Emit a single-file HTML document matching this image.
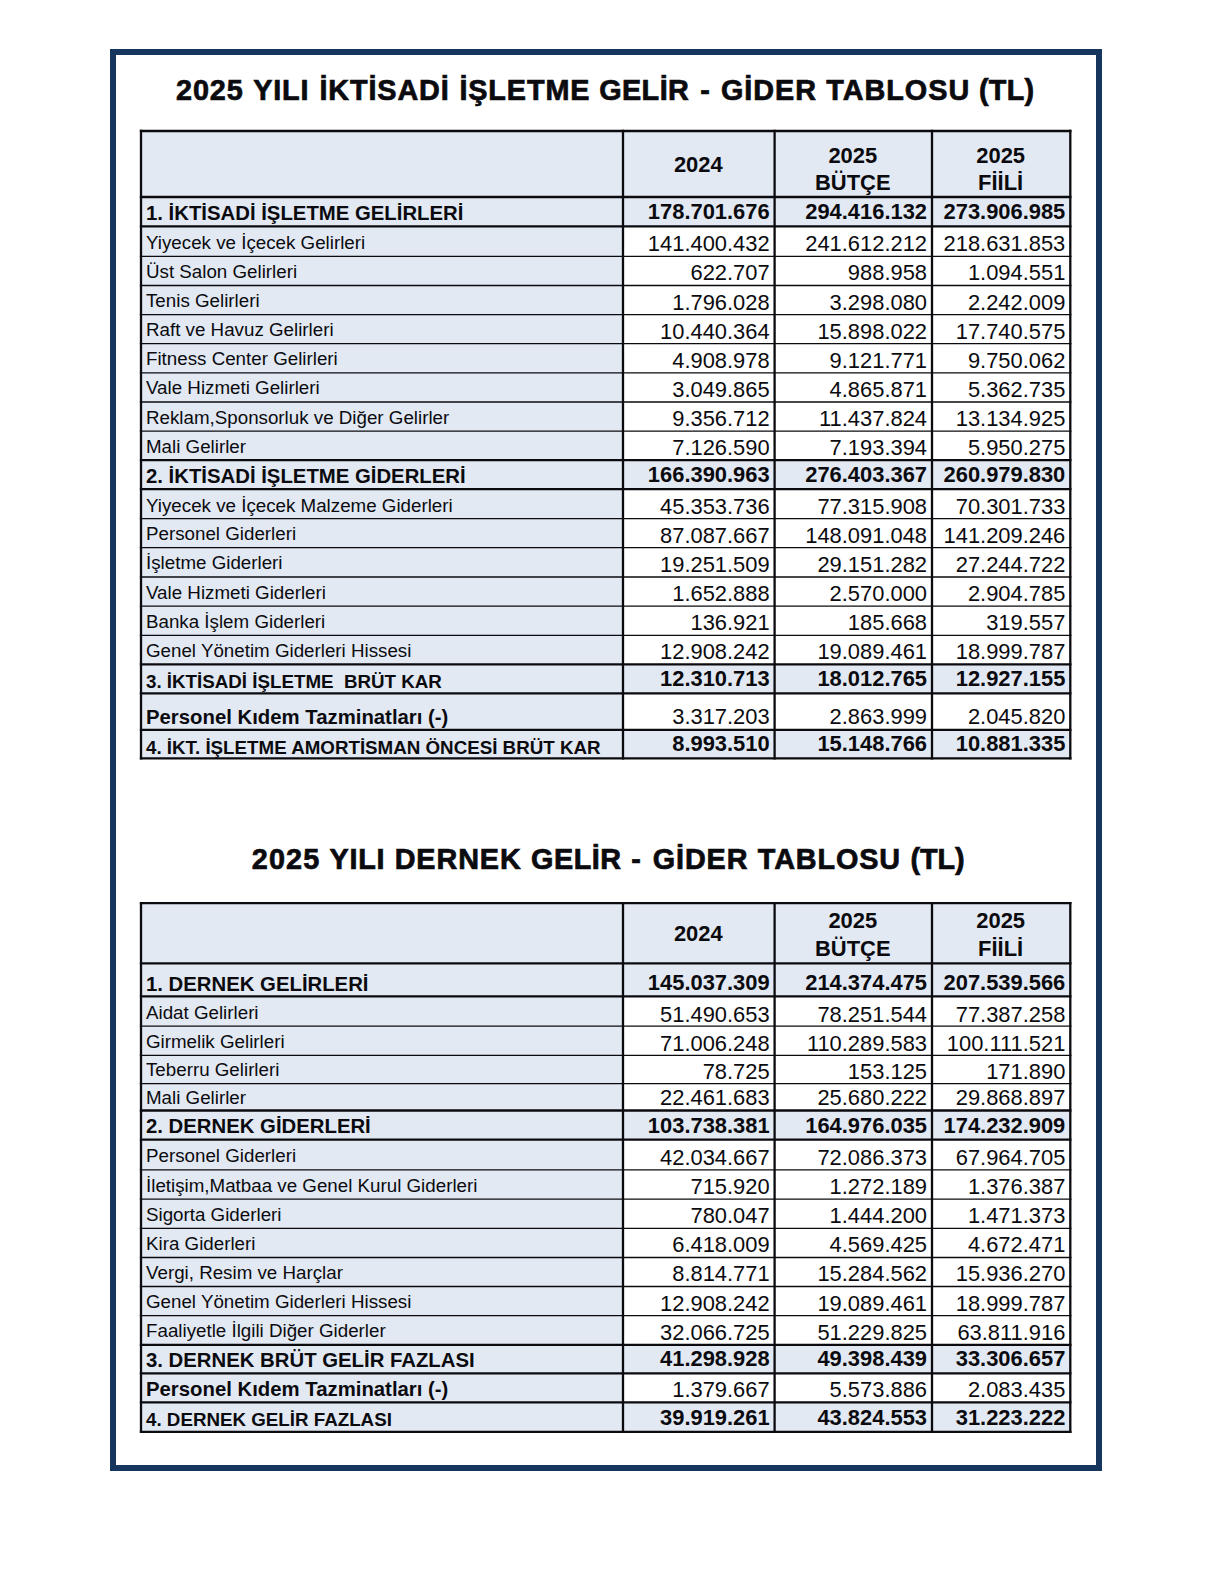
<!DOCTYPE html>
<html lang="tr"><head><meta charset="utf-8"><title>2025 Yılı Gelir - Gider Tabloları</title>
<style>
html,body{margin:0;padding:0;background:#fff;overflow:hidden;}
#page{position:relative;width:1217px;height:1571px;overflow:hidden;background:#fff;font-family:"Liberation Sans",Arial,Helvetica,sans-serif;color:#0b0b0f;}
#page svg{position:absolute;left:0;top:0;}
.t{position:absolute;white-space:pre;margin:0;font-weight:400;}
.ttl{-webkit-text-stroke:0.7px #0b0b0f;position:absolute;left:0;width:1217px;margin:0;font-weight:700;white-space:pre;}
.ttl span{position:absolute;top:0;display:block;transform-origin:0 0;}
</style></head><body>
<div id="page">
<svg width="1217" height="1571" viewBox="0 0 1217 1571">
<rect x="113" y="52" width="986" height="1416" fill="none" stroke="#17365f" stroke-width="6"/>
<rect x="141" y="131" width="482" height="627.4" fill="#e2e9f3"/>
<rect x="623" y="131" width="447.3" height="66" fill="#e2e9f3"/>
<rect x="623" y="197" width="447.3" height="29.4" fill="#e2e9f3"/>
<rect x="623" y="460.2" width="447.3" height="29" fill="#e2e9f3"/>
<rect x="623" y="664.3" width="447.3" height="29.1" fill="#e2e9f3"/>
<rect x="623" y="729.8" width="447.3" height="28.6" fill="#e2e9f3"/>
<line x1="139.85" x2="1071.45" y1="131" y2="131" stroke="#0b0b0f" stroke-width="2.3"/>
<line x1="139.85" x2="1071.45" y1="197" y2="197" stroke="#0b0b0f" stroke-width="2.3"/>
<line x1="139.85" x2="1071.45" y1="226.4" y2="226.4" stroke="#0b0b0f" stroke-width="2.3"/>
<line x1="139.85" x2="1071.45" y1="256.4" y2="256.4" stroke="#0b0b0f" stroke-width="1.3"/>
<line x1="139.85" x2="1071.45" y1="285.5" y2="285.5" stroke="#0b0b0f" stroke-width="1.3"/>
<line x1="139.85" x2="1071.45" y1="314.6" y2="314.6" stroke="#0b0b0f" stroke-width="1.3"/>
<line x1="139.85" x2="1071.45" y1="343.7" y2="343.7" stroke="#0b0b0f" stroke-width="1.3"/>
<line x1="139.85" x2="1071.45" y1="372.9" y2="372.9" stroke="#0b0b0f" stroke-width="1.3"/>
<line x1="139.85" x2="1071.45" y1="402" y2="402" stroke="#0b0b0f" stroke-width="1.3"/>
<line x1="139.85" x2="1071.45" y1="431.1" y2="431.1" stroke="#0b0b0f" stroke-width="1.3"/>
<line x1="139.85" x2="1071.45" y1="460.2" y2="460.2" stroke="#0b0b0f" stroke-width="2.3"/>
<line x1="139.85" x2="1071.45" y1="489.2" y2="489.2" stroke="#0b0b0f" stroke-width="2.3"/>
<line x1="139.85" x2="1071.45" y1="518.6" y2="518.6" stroke="#0b0b0f" stroke-width="1.3"/>
<line x1="139.85" x2="1071.45" y1="547.7" y2="547.7" stroke="#0b0b0f" stroke-width="1.3"/>
<line x1="139.85" x2="1071.45" y1="577" y2="577" stroke="#0b0b0f" stroke-width="1.3"/>
<line x1="139.85" x2="1071.45" y1="606.2" y2="606.2" stroke="#0b0b0f" stroke-width="1.3"/>
<line x1="139.85" x2="1071.45" y1="635.3" y2="635.3" stroke="#0b0b0f" stroke-width="1.3"/>
<line x1="139.85" x2="1071.45" y1="664.3" y2="664.3" stroke="#0b0b0f" stroke-width="2.3"/>
<line x1="139.85" x2="1071.45" y1="693.4" y2="693.4" stroke="#0b0b0f" stroke-width="2.3"/>
<line x1="139.85" x2="1071.45" y1="729.8" y2="729.8" stroke="#0b0b0f" stroke-width="2.3"/>
<line x1="139.85" x2="1071.45" y1="758.4" y2="758.4" stroke="#0b0b0f" stroke-width="2.3"/>
<line x1="141" x2="141" y1="129.85" y2="759.55" stroke="#0b0b0f" stroke-width="2.3"/>
<line x1="623" x2="623" y1="129.85" y2="759.55" stroke="#0b0b0f" stroke-width="2.3"/>
<line x1="774.6" x2="774.6" y1="129.85" y2="759.55" stroke="#0b0b0f" stroke-width="2.3"/>
<line x1="932" x2="932" y1="129.85" y2="759.55" stroke="#0b0b0f" stroke-width="2.3"/>
<line x1="1070.3" x2="1070.3" y1="129.85" y2="759.55" stroke="#0b0b0f" stroke-width="2.3"/>
<rect x="141" y="903.2" width="482" height="528.6" fill="#e2e9f3"/>
<rect x="623" y="903.2" width="447.3" height="60.1" fill="#e2e9f3"/>
<rect x="623" y="963.3" width="447.3" height="33.1" fill="#e2e9f3"/>
<rect x="623" y="1110.5" width="447.3" height="29.1" fill="#e2e9f3"/>
<rect x="623" y="1344.8" width="447.3" height="28.6" fill="#e2e9f3"/>
<rect x="623" y="1402.4" width="447.3" height="29.4" fill="#e2e9f3"/>
<line x1="139.85" x2="1071.45" y1="903.2" y2="903.2" stroke="#0b0b0f" stroke-width="2.3"/>
<line x1="139.85" x2="1071.45" y1="963.3" y2="963.3" stroke="#0b0b0f" stroke-width="2.3"/>
<line x1="139.85" x2="1071.45" y1="996.4" y2="996.4" stroke="#0b0b0f" stroke-width="2.3"/>
<line x1="139.85" x2="1071.45" y1="1026.1" y2="1026.1" stroke="#0b0b0f" stroke-width="1.3"/>
<line x1="139.85" x2="1071.45" y1="1055.4" y2="1055.4" stroke="#0b0b0f" stroke-width="1.3"/>
<line x1="139.85" x2="1071.45" y1="1083.6" y2="1083.6" stroke="#0b0b0f" stroke-width="1.3"/>
<line x1="139.85" x2="1071.45" y1="1110.5" y2="1110.5" stroke="#0b0b0f" stroke-width="2.3"/>
<line x1="139.85" x2="1071.45" y1="1139.6" y2="1139.6" stroke="#0b0b0f" stroke-width="2.3"/>
<line x1="139.85" x2="1071.45" y1="1169.9" y2="1169.9" stroke="#0b0b0f" stroke-width="1.3"/>
<line x1="139.85" x2="1071.45" y1="1199.1" y2="1199.1" stroke="#0b0b0f" stroke-width="1.3"/>
<line x1="139.85" x2="1071.45" y1="1228.3" y2="1228.3" stroke="#0b0b0f" stroke-width="1.3"/>
<line x1="139.85" x2="1071.45" y1="1257.5" y2="1257.5" stroke="#0b0b0f" stroke-width="1.3"/>
<line x1="139.85" x2="1071.45" y1="1286.5" y2="1286.5" stroke="#0b0b0f" stroke-width="1.3"/>
<line x1="139.85" x2="1071.45" y1="1315.6" y2="1315.6" stroke="#0b0b0f" stroke-width="1.3"/>
<line x1="139.85" x2="1071.45" y1="1344.8" y2="1344.8" stroke="#0b0b0f" stroke-width="2.3"/>
<line x1="139.85" x2="1071.45" y1="1373.4" y2="1373.4" stroke="#0b0b0f" stroke-width="2.3"/>
<line x1="139.85" x2="1071.45" y1="1402.4" y2="1402.4" stroke="#0b0b0f" stroke-width="2.3"/>
<line x1="139.85" x2="1071.45" y1="1431.8" y2="1431.8" stroke="#0b0b0f" stroke-width="2.3"/>
<line x1="141" x2="141" y1="902.05" y2="1432.95" stroke="#0b0b0f" stroke-width="2.3"/>
<line x1="623" x2="623" y1="902.05" y2="1432.95" stroke="#0b0b0f" stroke-width="2.3"/>
<line x1="774.6" x2="774.6" y1="902.05" y2="1432.95" stroke="#0b0b0f" stroke-width="2.3"/>
<line x1="932" x2="932" y1="902.05" y2="1432.95" stroke="#0b0b0f" stroke-width="2.3"/>
<line x1="1070.3" x2="1070.3" y1="902.05" y2="1432.95" stroke="#0b0b0f" stroke-width="2.3"/>
</svg>
<section>
<h1 class="ttl" style="top:72.12px;font-size:28.8px;line-height:37px;"><span style="left:176.05px;letter-spacing:0.85px">2025</span> <span style="left:253.2px;letter-spacing:0.82px">YILI</span> <span style="left:319.4px;letter-spacing:0.89px">İKTİSADİ</span> <span style="left:459.4px;letter-spacing:0.88px">İŞLETME</span> <span style="left:599.15px;letter-spacing:0.43px">GELİR</span> <span style="left:700.25px;letter-spacing:0px">-</span> <span style="left:720.95px;letter-spacing:0.96px">GİDER</span> <span style="left:826.2px;letter-spacing:1.01px">TABLOSU</span> <span style="left:979.1px;letter-spacing:0.18px">(TL)</span></h1>
<div class="t" style="top:152.09px;font-size:21.95px;line-height:26px;left:98.3px;width:1200px;text-align:center;font-weight:700;">2024</div>
<div class="t" style="top:143.39px;font-size:21.95px;line-height:26px;left:252.8px;width:1200px;text-align:center;font-weight:700;">2025</div>
<div class="t" style="top:170.39px;font-size:21.95px;line-height:26px;left:252.8px;width:1200px;text-align:center;font-weight:700;">BÜTÇE</div>
<div class="t" style="top:143.39px;font-size:21.95px;line-height:26px;left:400.65px;width:1200px;text-align:center;font-weight:700;">2025</div>
<div class="t" style="top:170.39px;font-size:21.95px;line-height:26px;left:400.65px;width:1200px;text-align:center;font-weight:700;">FİİLİ</div>
<div class="row"><div class="t" style="top:200.75px;font-size:20.34px;line-height:24px;left:146px;font-weight:700;">1. İKTİSADİ İŞLETME GELİRLERİ</div><div class="t" style="top:199.41px;font-size:21.9px;line-height:26px;right:447.4px;font-weight:700;">178.701.676</div><div class="t" style="top:199.41px;font-size:21.9px;line-height:26px;right:290px;font-weight:700;">294.416.132</div><div class="t" style="top:199.41px;font-size:21.9px;line-height:26px;right:151.7px;font-weight:700;">273.906.985</div></div>
<div class="row"><div class="t" style="top:230.8px;font-size:18.76px;line-height:23px;left:146px;">Yiyecek ve İçecek Gelirleri</div><div class="t" style="top:231.31px;font-size:21.9px;line-height:26px;right:447.4px;">141.400.432</div><div class="t" style="top:231.31px;font-size:21.9px;line-height:26px;right:290px;">241.612.212</div><div class="t" style="top:231.31px;font-size:21.9px;line-height:26px;right:151.7px;">218.631.853</div></div>
<div class="row"><div class="t" style="top:259.9px;font-size:18.76px;line-height:23px;left:146px;">Üst Salon Gelirleri</div><div class="t" style="top:260.41px;font-size:21.9px;line-height:26px;right:447.4px;">622.707</div><div class="t" style="top:260.41px;font-size:21.9px;line-height:26px;right:290px;">988.958</div><div class="t" style="top:260.41px;font-size:21.9px;line-height:26px;right:151.7px;">1.094.551</div></div>
<div class="row"><div class="t" style="top:289px;font-size:18.76px;line-height:23px;left:146px;">Tenis Gelirleri</div><div class="t" style="top:289.51px;font-size:21.9px;line-height:26px;right:447.4px;">1.796.028</div><div class="t" style="top:289.51px;font-size:21.9px;line-height:26px;right:290px;">3.298.080</div><div class="t" style="top:289.51px;font-size:21.9px;line-height:26px;right:151.7px;">2.242.009</div></div>
<div class="row"><div class="t" style="top:318.1px;font-size:18.76px;line-height:23px;left:146px;">Raft ve Havuz Gelirleri</div><div class="t" style="top:318.61px;font-size:21.9px;line-height:26px;right:447.4px;">10.440.364</div><div class="t" style="top:318.61px;font-size:21.9px;line-height:26px;right:290px;">15.898.022</div><div class="t" style="top:318.61px;font-size:21.9px;line-height:26px;right:151.7px;">17.740.575</div></div>
<div class="row"><div class="t" style="top:347.3px;font-size:18.76px;line-height:23px;left:146px;">Fitness Center Gelirleri</div><div class="t" style="top:347.81px;font-size:21.9px;line-height:26px;right:447.4px;">4.908.978</div><div class="t" style="top:347.81px;font-size:21.9px;line-height:26px;right:290px;">9.121.771</div><div class="t" style="top:347.81px;font-size:21.9px;line-height:26px;right:151.7px;">9.750.062</div></div>
<div class="row"><div class="t" style="top:376.4px;font-size:18.76px;line-height:23px;left:146px;">Vale Hizmeti Gelirleri</div><div class="t" style="top:376.91px;font-size:21.9px;line-height:26px;right:447.4px;">3.049.865</div><div class="t" style="top:376.91px;font-size:21.9px;line-height:26px;right:290px;">4.865.871</div><div class="t" style="top:376.91px;font-size:21.9px;line-height:26px;right:151.7px;">5.362.735</div></div>
<div class="row"><div class="t" style="top:405.5px;font-size:18.76px;line-height:23px;left:146px;">Reklam,Sponsorluk ve Diğer Gelirler</div><div class="t" style="top:406.01px;font-size:21.9px;line-height:26px;right:447.4px;">9.356.712</div><div class="t" style="top:406.01px;font-size:21.9px;line-height:26px;right:290px;">11.437.824</div><div class="t" style="top:406.01px;font-size:21.9px;line-height:26px;right:151.7px;">13.134.925</div></div>
<div class="row"><div class="t" style="top:434.6px;font-size:18.76px;line-height:23px;left:146px;">Mali Gelirler</div><div class="t" style="top:435.11px;font-size:21.9px;line-height:26px;right:447.4px;">7.126.590</div><div class="t" style="top:435.11px;font-size:21.9px;line-height:26px;right:290px;">7.193.394</div><div class="t" style="top:435.11px;font-size:21.9px;line-height:26px;right:151.7px;">5.950.275</div></div>
<div class="row"><div class="t" style="top:463.55px;font-size:20.34px;line-height:24px;left:146px;font-weight:700;">2. İKTİSADİ İŞLETME GİDERLERİ</div><div class="t" style="top:462.21px;font-size:21.9px;line-height:26px;right:447.4px;font-weight:700;">166.390.963</div><div class="t" style="top:462.21px;font-size:21.9px;line-height:26px;right:290px;font-weight:700;">276.403.367</div><div class="t" style="top:462.21px;font-size:21.9px;line-height:26px;right:151.7px;font-weight:700;">260.979.830</div></div>
<div class="row"><div class="t" style="top:493.8px;font-size:18.76px;line-height:23px;left:146px;">Yiyecek ve İçecek Malzeme Giderleri</div><div class="t" style="top:493.51px;font-size:21.9px;line-height:26px;right:447.4px;">45.353.736</div><div class="t" style="top:493.51px;font-size:21.9px;line-height:26px;right:290px;">77.315.908</div><div class="t" style="top:493.51px;font-size:21.9px;line-height:26px;right:151.7px;">70.301.733</div></div>
<div class="row"><div class="t" style="top:522.1px;font-size:18.76px;line-height:23px;left:146px;">Personel Giderleri</div><div class="t" style="top:522.61px;font-size:21.9px;line-height:26px;right:447.4px;">87.087.667</div><div class="t" style="top:522.61px;font-size:21.9px;line-height:26px;right:290px;">148.091.048</div><div class="t" style="top:522.61px;font-size:21.9px;line-height:26px;right:151.7px;">141.209.246</div></div>
<div class="row"><div class="t" style="top:551.4px;font-size:18.76px;line-height:23px;left:146px;">İşletme Giderleri</div><div class="t" style="top:551.91px;font-size:21.9px;line-height:26px;right:447.4px;">19.251.509</div><div class="t" style="top:551.91px;font-size:21.9px;line-height:26px;right:290px;">29.151.282</div><div class="t" style="top:551.91px;font-size:21.9px;line-height:26px;right:151.7px;">27.244.722</div></div>
<div class="row"><div class="t" style="top:580.6px;font-size:18.76px;line-height:23px;left:146px;">Vale Hizmeti Giderleri</div><div class="t" style="top:581.11px;font-size:21.9px;line-height:26px;right:447.4px;">1.652.888</div><div class="t" style="top:581.11px;font-size:21.9px;line-height:26px;right:290px;">2.570.000</div><div class="t" style="top:581.11px;font-size:21.9px;line-height:26px;right:151.7px;">2.904.785</div></div>
<div class="row"><div class="t" style="top:609.7px;font-size:18.76px;line-height:23px;left:146px;">Banka İşlem Giderleri</div><div class="t" style="top:610.21px;font-size:21.9px;line-height:26px;right:447.4px;">136.921</div><div class="t" style="top:610.21px;font-size:21.9px;line-height:26px;right:290px;">185.668</div><div class="t" style="top:610.21px;font-size:21.9px;line-height:26px;right:151.7px;">319.557</div></div>
<div class="row"><div class="t" style="top:638.7px;font-size:18.76px;line-height:23px;left:146px;">Genel Yönetim Giderleri Hissesi</div><div class="t" style="top:639.21px;font-size:21.9px;line-height:26px;right:447.4px;">12.908.242</div><div class="t" style="top:639.21px;font-size:21.9px;line-height:26px;right:290px;">19.089.461</div><div class="t" style="top:639.21px;font-size:21.9px;line-height:26px;right:151.7px;">18.999.787</div></div>
<div class="row"><div class="t" style="top:670.1px;font-size:18.76px;line-height:23px;left:146px;font-weight:700;">3. İKTİSADİ İŞLETME  BRÜT KAR</div><div class="t" style="top:666.41px;font-size:21.9px;line-height:26px;right:447.4px;font-weight:700;">12.310.713</div><div class="t" style="top:666.41px;font-size:21.9px;line-height:26px;right:290px;font-weight:700;">18.012.765</div><div class="t" style="top:666.41px;font-size:21.9px;line-height:26px;right:151.7px;font-weight:700;">12.927.155</div></div>
<div class="row"><div class="t" style="top:705.15px;font-size:20.34px;line-height:24px;left:146px;font-weight:700;">Personel Kıdem Tazminatları (-)</div><div class="t" style="top:704.11px;font-size:21.9px;line-height:26px;right:447.4px;">3.317.203</div><div class="t" style="top:704.11px;font-size:21.9px;line-height:26px;right:290px;">2.863.999</div><div class="t" style="top:704.11px;font-size:21.9px;line-height:26px;right:151.7px;">2.045.820</div></div>
<div class="row"><div class="t" style="top:735.5px;font-size:18.76px;line-height:23px;left:146px;font-weight:700;">4. İKT. İŞLETME AMORTİSMAN ÖNCESİ BRÜT KAR</div><div class="t" style="top:731.41px;font-size:21.9px;line-height:26px;right:447.4px;font-weight:700;">8.993.510</div><div class="t" style="top:731.41px;font-size:21.9px;line-height:26px;right:290px;font-weight:700;">15.148.766</div><div class="t" style="top:731.41px;font-size:21.9px;line-height:26px;right:151.7px;font-weight:700;">10.881.335</div></div>
</section>
<section>
<h1 class="ttl" style="top:840.52px;font-size:28.8px;line-height:37px;"><span style="left:251.85px;letter-spacing:1.08px">2025</span> <span style="left:329.5px;letter-spacing:0.72px">YILI</span> <span style="left:394.7px;letter-spacing:0.89px">DERNEK</span> <span style="left:531.05px;letter-spacing:0.53px">GELİR</span> <span style="left:631.25px;letter-spacing:0px">-</span> <span style="left:652.85px;letter-spacing:0.86px">GİDER</span> <span style="left:757.8px;letter-spacing:0.88px">TABLOSU</span> <span style="left:910.4px;letter-spacing:-0.05px">(TL)</span></h1>
<div class="t" style="top:921.39px;font-size:21.95px;line-height:26px;left:98.3px;width:1200px;text-align:center;font-weight:700;">2024</div>
<div class="t" style="top:907.89px;font-size:21.95px;line-height:26px;left:252.8px;width:1200px;text-align:center;font-weight:700;">2025</div>
<div class="t" style="top:935.59px;font-size:21.95px;line-height:26px;left:252.8px;width:1200px;text-align:center;font-weight:700;">BÜTÇE</div>
<div class="t" style="top:907.89px;font-size:21.95px;line-height:26px;left:400.65px;width:1200px;text-align:center;font-weight:700;">2025</div>
<div class="t" style="top:935.59px;font-size:21.95px;line-height:26px;left:400.65px;width:1200px;text-align:center;font-weight:700;">FİİLİ</div>
<div class="row"><div class="t" style="top:971.55px;font-size:20.34px;line-height:24px;left:146px;font-weight:700;">1. DERNEK GELİRLERİ</div><div class="t" style="top:970.21px;font-size:21.9px;line-height:26px;right:447.4px;font-weight:700;">145.037.309</div><div class="t" style="top:970.21px;font-size:21.9px;line-height:26px;right:290px;font-weight:700;">214.374.475</div><div class="t" style="top:970.21px;font-size:21.9px;line-height:26px;right:151.7px;font-weight:700;">207.539.566</div></div>
<div class="row"><div class="t" style="top:1000.5px;font-size:18.76px;line-height:23px;left:146px;">Aidat Gelirleri</div><div class="t" style="top:1001.51px;font-size:21.9px;line-height:26px;right:447.4px;">51.490.653</div><div class="t" style="top:1001.51px;font-size:21.9px;line-height:26px;right:290px;">78.251.544</div><div class="t" style="top:1001.51px;font-size:21.9px;line-height:26px;right:151.7px;">77.387.258</div></div>
<div class="row"><div class="t" style="top:1029.8px;font-size:18.76px;line-height:23px;left:146px;">Girmelik Gelirleri</div><div class="t" style="top:1030.81px;font-size:21.9px;line-height:26px;right:447.4px;">71.006.248</div><div class="t" style="top:1030.81px;font-size:21.9px;line-height:26px;right:290px;">110.289.583</div><div class="t" style="top:1030.81px;font-size:21.9px;line-height:26px;right:151.7px;">100.111.521</div></div>
<div class="row"><div class="t" style="top:1058px;font-size:18.76px;line-height:23px;left:146px;">Teberru Gelirleri</div><div class="t" style="top:1058.51px;font-size:21.9px;line-height:26px;right:447.4px;">78.725</div><div class="t" style="top:1058.51px;font-size:21.9px;line-height:26px;right:290px;">153.125</div><div class="t" style="top:1058.51px;font-size:21.9px;line-height:26px;right:151.7px;">171.890</div></div>
<div class="row"><div class="t" style="top:1086.1px;font-size:18.76px;line-height:23px;left:146px;">Mali Gelirler</div><div class="t" style="top:1085.41px;font-size:21.9px;line-height:26px;right:447.4px;">22.461.683</div><div class="t" style="top:1085.41px;font-size:21.9px;line-height:26px;right:290px;">25.680.222</div><div class="t" style="top:1085.41px;font-size:21.9px;line-height:26px;right:151.7px;">29.868.897</div></div>
<div class="row"><div class="t" style="top:1113.95px;font-size:20.34px;line-height:24px;left:146px;font-weight:700;">2. DERNEK GİDERLERİ</div><div class="t" style="top:1112.61px;font-size:21.9px;line-height:26px;right:447.4px;font-weight:700;">103.738.381</div><div class="t" style="top:1112.61px;font-size:21.9px;line-height:26px;right:290px;font-weight:700;">164.976.035</div><div class="t" style="top:1112.61px;font-size:21.9px;line-height:26px;right:151.7px;font-weight:700;">174.232.909</div></div>
<div class="row"><div class="t" style="top:1144.3px;font-size:18.76px;line-height:23px;left:146px;">Personel Giderleri</div><div class="t" style="top:1144.81px;font-size:21.9px;line-height:26px;right:447.4px;">42.034.667</div><div class="t" style="top:1144.81px;font-size:21.9px;line-height:26px;right:290px;">72.086.373</div><div class="t" style="top:1144.81px;font-size:21.9px;line-height:26px;right:151.7px;">67.964.705</div></div>
<div class="row"><div class="t" style="top:1173.5px;font-size:18.76px;line-height:23px;left:146px;">İletişim,Matbaa ve Genel Kurul Giderleri</div><div class="t" style="top:1174.01px;font-size:21.9px;line-height:26px;right:447.4px;">715.920</div><div class="t" style="top:1174.01px;font-size:21.9px;line-height:26px;right:290px;">1.272.189</div><div class="t" style="top:1174.01px;font-size:21.9px;line-height:26px;right:151.7px;">1.376.387</div></div>
<div class="row"><div class="t" style="top:1202.7px;font-size:18.76px;line-height:23px;left:146px;">Sigorta Giderleri</div><div class="t" style="top:1203.21px;font-size:21.9px;line-height:26px;right:447.4px;">780.047</div><div class="t" style="top:1203.21px;font-size:21.9px;line-height:26px;right:290px;">1.444.200</div><div class="t" style="top:1203.21px;font-size:21.9px;line-height:26px;right:151.7px;">1.471.373</div></div>
<div class="row"><div class="t" style="top:1231.9px;font-size:18.76px;line-height:23px;left:146px;">Kira Giderleri</div><div class="t" style="top:1232.41px;font-size:21.9px;line-height:26px;right:447.4px;">6.418.009</div><div class="t" style="top:1232.41px;font-size:21.9px;line-height:26px;right:290px;">4.569.425</div><div class="t" style="top:1232.41px;font-size:21.9px;line-height:26px;right:151.7px;">4.672.471</div></div>
<div class="row"><div class="t" style="top:1260.9px;font-size:18.76px;line-height:23px;left:146px;">Vergi, Resim ve Harçlar</div><div class="t" style="top:1261.41px;font-size:21.9px;line-height:26px;right:447.4px;">8.814.771</div><div class="t" style="top:1261.41px;font-size:21.9px;line-height:26px;right:290px;">15.284.562</div><div class="t" style="top:1261.41px;font-size:21.9px;line-height:26px;right:151.7px;">15.936.270</div></div>
<div class="row"><div class="t" style="top:1290px;font-size:18.76px;line-height:23px;left:146px;">Genel Yönetim Giderleri Hissesi</div><div class="t" style="top:1290.51px;font-size:21.9px;line-height:26px;right:447.4px;">12.908.242</div><div class="t" style="top:1290.51px;font-size:21.9px;line-height:26px;right:290px;">19.089.461</div><div class="t" style="top:1290.51px;font-size:21.9px;line-height:26px;right:151.7px;">18.999.787</div></div>
<div class="row"><div class="t" style="top:1319.2px;font-size:18.76px;line-height:23px;left:146px;">Faaliyetle İlgili Diğer Giderler</div><div class="t" style="top:1319.71px;font-size:21.9px;line-height:26px;right:447.4px;">32.066.725</div><div class="t" style="top:1319.71px;font-size:21.9px;line-height:26px;right:290px;">51.229.825</div><div class="t" style="top:1319.71px;font-size:21.9px;line-height:26px;right:151.7px;">63.811.916</div></div>
<div class="row"><div class="t" style="top:1347.75px;font-size:20.34px;line-height:24px;left:146px;font-weight:700;">3. DERNEK BRÜT GELİR FAZLASI</div><div class="t" style="top:1346.41px;font-size:21.9px;line-height:26px;right:447.4px;font-weight:700;">41.298.928</div><div class="t" style="top:1346.41px;font-size:21.9px;line-height:26px;right:290px;font-weight:700;">49.398.439</div><div class="t" style="top:1346.41px;font-size:21.9px;line-height:26px;right:151.7px;font-weight:700;">33.306.657</div></div>
<div class="row"><div class="t" style="top:1377.35px;font-size:20.34px;line-height:24px;left:146px;font-weight:700;">Personel Kıdem Tazminatları (-)</div><div class="t" style="top:1376.71px;font-size:21.9px;line-height:26px;right:447.4px;">1.379.667</div><div class="t" style="top:1376.71px;font-size:21.9px;line-height:26px;right:290px;">5.573.886</div><div class="t" style="top:1376.71px;font-size:21.9px;line-height:26px;right:151.7px;">2.083.435</div></div>
<div class="row"><div class="t" style="top:1408.1px;font-size:18.76px;line-height:23px;left:146px;font-weight:700;">4. DERNEK GELİR FAZLASI</div><div class="t" style="top:1404.81px;font-size:21.9px;line-height:26px;right:447.4px;font-weight:700;">39.919.261</div><div class="t" style="top:1404.81px;font-size:21.9px;line-height:26px;right:290px;font-weight:700;">43.824.553</div><div class="t" style="top:1404.81px;font-size:21.9px;line-height:26px;right:151.7px;font-weight:700;">31.223.222</div></div>
</section>
</div>
</body></html>
